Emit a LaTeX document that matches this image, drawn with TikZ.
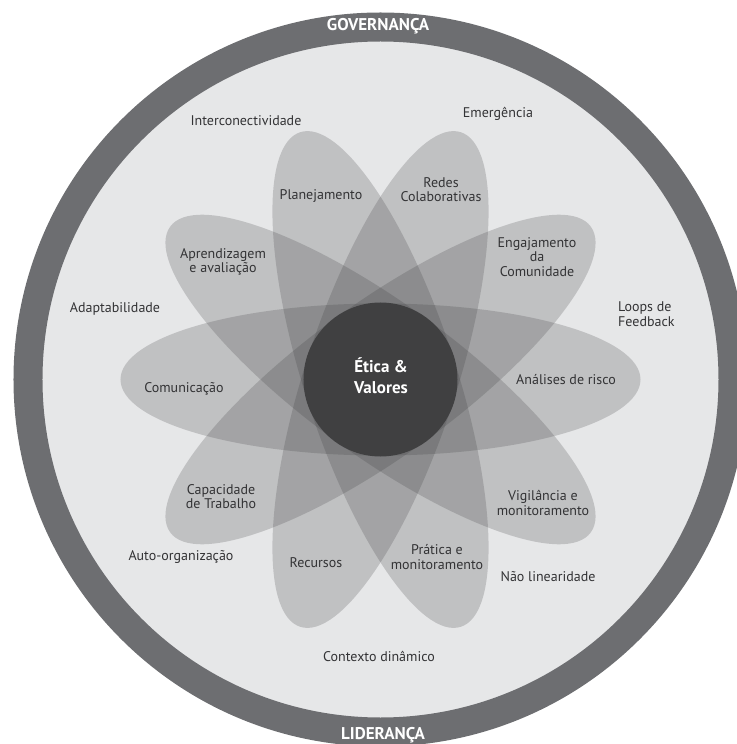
\documentclass[tikz,border=0pt]{standalone}
\usepackage{fontspec}
\setmainfont{PT Sans}
\usetikzlibrary{calc}
\definecolor{ringgray}{HTML}{6D6E71}
\definecolor{bggray}{HTML}{E6E7E8}
\definecolor{petalgray}{HTML}{3C3C3E}
\definecolor{coregray}{HTML}{404041}
\definecolor{txtgray}{HTML}{333335}
\tikzset{
	petal/.style={fill=petalgray, fill opacity=0.22},
	lbl/.style={text=txtgray, font=\fontsize{14}{14.5}\selectfont, align=center, inner sep=0pt},
	ringlbl/.style={text=white, font=\fontsize{17}{18}\selectfont\bfseries, inner sep=0pt}
}

\begin{document}
\begin{tikzpicture}[x=1pt, y=1pt]
		%%%%% START %%%%%
		\useasboundingbox (-380.5, -364.5) rectangle (355.5, 379.5);
		
		\fill[bggray] (0, 0) circle (352.5pt);
		\draw[ringgray, line width=29pt] (0, 0) circle (352.5pt);
		
		\foreach \ang in {0, 36, 72, 108, 144}
			\fill[petal, rotate=\ang] (0, 0) ellipse (260pt and 76pt);
		
		\fill[coregray] (0, 0) circle (77pt);
		
		\node[ringlbl] (gov) at (-2.5, 353.5) {GOVERNANÇA};
		\node[ringlbl] (lid) at (2.5, -355.5) {LIDERANÇA};
		
		\node[lbl, text=white, font=\fontsize{17}{21}\selectfont\bfseries] (etica) at (0.5, 4) {Ética \&\\Valores};
		
		\node[lbl] (plan) at (-59.5, 183.5) {Planejamento};
		\node[lbl] (redes) at (60.5, 190) {Redes\\Colaborativas};
		\node[lbl] (aprend) at (-157.5, 117.5) {Aprendizagem\\e avaliação};
		\node[lbl] (engaj) at (156.5, 122.5) {Engajamento\\da\\Comunidade};
		\node[lbl] (comun) at (-196.5, -9.5) {Comunicação};
		\node[lbl] (risco) at (185.5, -0.5) {Análises de risco};
		\node[lbl] (capac) at (-159.5, -117) {Capacidade\\de Trabalho};
		\node[lbl] (vigil) at (162.5, -123.5) {Vigilância e\\monitoramento};
		\node[lbl] (recur) at (-64.5, -183.5) {Recursos};
		\node[lbl] (prat) at (56.5, -177.5) {Prática e\\monitoramento};
		
		\node[lbl] (inter) at (-134.5, 258.5) {Interconectividade};
		\node[lbl] (emerg) at (117.5, 265.5) {Emergência};
		\node[lbl] (adapt) at (-265.5, 70.5) {Adaptabilidade};
		\node[lbl, anchor=west, align=left] (loops) at (237.5, 65.5) {Loops de\\Feedback};
		\node[lbl] (auto) at (-199.5, -177.5) {Auto-organização};
		\node[lbl] (naolin) at (167.5, -197.5) {Não linearidade};
		\node[lbl] (contex) at (-1.5, -276.5) {Contexto dinâmico};
		%%%%% END %%%%%
\end{tikzpicture}
\end{document}
